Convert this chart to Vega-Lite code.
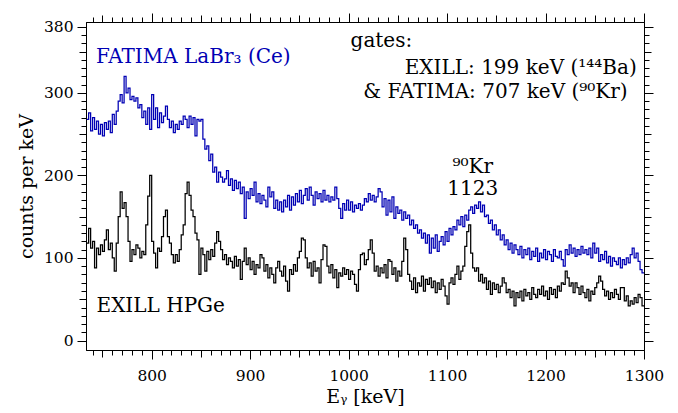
{
"$schema": "https://vega.github.io/schema/vega-lite/v6.json",
"width": 558, "height": 328,
"autosize": {"type": "none"},
"padding": {"left": 86, "top": 22, "right": 34, "bottom": 63},
"config": {
  "view": {"stroke": "black", "strokeWidth": 1},
  "font": "DejaVu Serif",
  "axis": {"grid": false, "tickColor": "black", "domainColor": "black", "labelColor": "black", "titleColor": "black", "labelFont": "DejaVu Serif", "titleFont": "DejaVu Serif", "labelFontSize": 15.5, "titleFontSize": 19, "titleFontWeight": "normal", "tickWidth": 1, "domainWidth": 1, "labelOverlap": false, "labelFlush": false},
  "text": {"font": "DejaVu Serif", "fontSize": 20}
},
"datasets": {"spec": [
{"e":734,"HPGe":118,"LaBr3":268},{"e":736,"HPGe":136,"LaBr3":276},{"e":738,"HPGe":112,"LaBr3":254},{"e":740,"HPGe":120,"LaBr3":270},
{"e":742,"HPGe":88,"LaBr3":256},{"e":744,"HPGe":112,"LaBr3":266},{"e":746,"HPGe":104,"LaBr3":250},{"e":748,"HPGe":116,"LaBr3":262},
{"e":750,"HPGe":108,"LaBr3":248},{"e":752,"HPGe":122,"LaBr3":264},{"e":754,"HPGe":134,"LaBr3":256},{"e":756,"HPGe":110,"LaBr3":266},
{"e":758,"HPGe":118,"LaBr3":252},{"e":760,"HPGe":100,"LaBr3":274},{"e":762,"HPGe":84,"LaBr3":262},{"e":764,"HPGe":118,"LaBr3":278},
{"e":766,"HPGe":150,"LaBr3":290},{"e":768,"HPGe":180,"LaBr3":298},{"e":770,"HPGe":160,"LaBr3":288},{"e":772,"HPGe":167,"LaBr3":320},
{"e":774,"HPGe":150,"LaBr3":300},{"e":776,"HPGe":120,"LaBr3":306},{"e":778,"HPGe":96,"LaBr3":292},{"e":780,"HPGe":110,"LaBr3":296},
{"e":782,"HPGe":104,"LaBr3":290},{"e":784,"HPGe":116,"LaBr3":294},{"e":786,"HPGe":112,"LaBr3":282},{"e":788,"HPGe":100,"LaBr3":286},
{"e":790,"HPGe":108,"LaBr3":270},{"e":792,"HPGe":104,"LaBr3":278},{"e":794,"HPGe":140,"LaBr3":262},{"e":796,"HPGe":175,"LaBr3":282},
{"e":798,"HPGe":200,"LaBr3":256},{"e":800,"HPGe":120,"LaBr3":298},{"e":802,"HPGe":106,"LaBr3":268},{"e":804,"HPGe":88,"LaBr3":282},
{"e":806,"HPGe":112,"LaBr3":258},{"e":808,"HPGe":108,"LaBr3":276},{"e":810,"HPGe":126,"LaBr3":264},{"e":812,"HPGe":150,"LaBr3":272},
{"e":814,"HPGe":158,"LaBr3":284},{"e":816,"HPGe":126,"LaBr3":268},{"e":818,"HPGe":118,"LaBr3":258},{"e":820,"HPGe":104,"LaBr3":266},
{"e":822,"HPGe":94,"LaBr3":252},{"e":824,"HPGe":104,"LaBr3":262},{"e":826,"HPGe":96,"LaBr3":256},{"e":828,"HPGe":110,"LaBr3":266},
{"e":830,"HPGe":128,"LaBr3":262},{"e":832,"HPGe":140,"LaBr3":272},{"e":834,"HPGe":178,"LaBr3":268},{"e":836,"HPGe":192,"LaBr3":258},
{"e":838,"HPGe":176,"LaBr3":272},{"e":840,"HPGe":158,"LaBr3":262},{"e":842,"HPGe":150,"LaBr3":270},{"e":844,"HPGe":130,"LaBr3":248},
{"e":846,"HPGe":122,"LaBr3":268},{"e":848,"HPGe":80,"LaBr3":266},{"e":850,"HPGe":112,"LaBr3":268},{"e":852,"HPGe":104,"LaBr3":244},
{"e":854,"HPGe":84,"LaBr3":232},{"e":856,"HPGe":108,"LaBr3":236},{"e":858,"HPGe":98,"LaBr3":218},{"e":860,"HPGe":110,"LaBr3":226},
{"e":862,"HPGe":102,"LaBr3":204},{"e":864,"HPGe":118,"LaBr3":210},{"e":866,"HPGe":132,"LaBr3":192},{"e":868,"HPGe":120,"LaBr3":204},
{"e":870,"HPGe":110,"LaBr3":198},{"e":872,"HPGe":98,"LaBr3":192},{"e":874,"HPGe":104,"LaBr3":196},{"e":876,"HPGe":92,"LaBr3":206},
{"e":878,"HPGe":100,"LaBr3":188},{"e":880,"HPGe":96,"LaBr3":196},{"e":882,"HPGe":88,"LaBr3":182},{"e":884,"HPGe":102,"LaBr3":194},
{"e":886,"HPGe":90,"LaBr3":184},{"e":888,"HPGe":98,"LaBr3":192},{"e":890,"HPGe":74,"LaBr3":178},{"e":892,"HPGe":96,"LaBr3":186},
{"e":894,"HPGe":112,"LaBr3":148},{"e":896,"HPGe":92,"LaBr3":180},{"e":898,"HPGe":100,"LaBr3":172},{"e":900,"HPGe":86,"LaBr3":184},
{"e":902,"HPGe":96,"LaBr3":176},{"e":904,"HPGe":80,"LaBr3":192},{"e":906,"HPGe":92,"LaBr3":168},{"e":908,"HPGe":88,"LaBr3":178},
{"e":910,"HPGe":104,"LaBr3":166},{"e":912,"HPGe":100,"LaBr3":176},{"e":914,"HPGe":84,"LaBr3":170},{"e":916,"HPGe":92,"LaBr3":162},
{"e":918,"HPGe":76,"LaBr3":186},{"e":920,"HPGe":88,"LaBr3":174},{"e":922,"HPGe":80,"LaBr3":180},{"e":924,"HPGe":70,"LaBr3":160},
{"e":926,"HPGe":88,"LaBr3":170},{"e":928,"HPGe":96,"LaBr3":158},{"e":930,"HPGe":84,"LaBr3":168},{"e":932,"HPGe":78,"LaBr3":156},
{"e":934,"HPGe":90,"LaBr3":170},{"e":936,"HPGe":72,"LaBr3":162},{"e":938,"HPGe":60,"LaBr3":176},{"e":940,"HPGe":86,"LaBr3":158},
{"e":942,"HPGe":80,"LaBr3":174},{"e":944,"HPGe":92,"LaBr3":164},{"e":946,"HPGe":84,"LaBr3":178},{"e":948,"HPGe":100,"LaBr3":168},
{"e":950,"HPGe":108,"LaBr3":182},{"e":952,"HPGe":124,"LaBr3":166},{"e":954,"HPGe":122,"LaBr3":176},{"e":956,"HPGe":100,"LaBr3":184},
{"e":958,"HPGe":88,"LaBr3":170},{"e":960,"HPGe":94,"LaBr3":186},{"e":962,"HPGe":78,"LaBr3":176},{"e":964,"HPGe":96,"LaBr3":164},
{"e":966,"HPGe":84,"LaBr3":180},{"e":968,"HPGe":88,"LaBr3":172},{"e":970,"HPGe":70,"LaBr3":178},{"e":972,"HPGe":98,"LaBr3":168},
{"e":974,"HPGe":116,"LaBr3":182},{"e":976,"HPGe":114,"LaBr3":170},{"e":978,"HPGe":90,"LaBr3":176},{"e":980,"HPGe":82,"LaBr3":168},
{"e":982,"HPGe":92,"LaBr3":174},{"e":984,"HPGe":76,"LaBr3":170},{"e":986,"HPGe":86,"LaBr3":186},{"e":988,"HPGe":64,"LaBr3":172},
{"e":990,"HPGe":82,"LaBr3":160},{"e":992,"HPGe":78,"LaBr3":148},{"e":994,"HPGe":88,"LaBr3":166},{"e":996,"HPGe":80,"LaBr3":158},
{"e":998,"HPGe":86,"LaBr3":170},{"e":1000,"HPGe":74,"LaBr3":158},{"e":1002,"HPGe":84,"LaBr3":168},{"e":1004,"HPGe":80,"LaBr3":156},
{"e":1006,"HPGe":68,"LaBr3":164},{"e":1008,"HPGe":60,"LaBr3":160},{"e":1010,"HPGe":86,"LaBr3":166},{"e":1012,"HPGe":104,"LaBr3":158},
{"e":1014,"HPGe":106,"LaBr3":164},{"e":1016,"HPGe":92,"LaBr3":172},{"e":1018,"HPGe":98,"LaBr3":168},{"e":1020,"HPGe":110,"LaBr3":178},
{"e":1022,"HPGe":122,"LaBr3":170},{"e":1024,"HPGe":106,"LaBr3":176},{"e":1026,"HPGe":84,"LaBr3":168},{"e":1028,"HPGe":90,"LaBr3":174},
{"e":1030,"HPGe":78,"LaBr3":184},{"e":1032,"HPGe":88,"LaBr3":180},{"e":1034,"HPGe":82,"LaBr3":162},{"e":1036,"HPGe":92,"LaBr3":172},
{"e":1038,"HPGe":76,"LaBr3":152},{"e":1040,"HPGe":98,"LaBr3":170},{"e":1042,"HPGe":96,"LaBr3":156},{"e":1044,"HPGe":80,"LaBr3":174},
{"e":1046,"HPGe":88,"LaBr3":148},{"e":1048,"HPGe":72,"LaBr3":162},{"e":1050,"HPGe":84,"LaBr3":154},{"e":1052,"HPGe":78,"LaBr3":158},
{"e":1054,"HPGe":96,"LaBr3":146},{"e":1056,"HPGe":124,"LaBr3":156},{"e":1058,"HPGe":110,"LaBr3":148},{"e":1060,"HPGe":80,"LaBr3":152},
{"e":1062,"HPGe":72,"LaBr3":140},{"e":1064,"HPGe":62,"LaBr3":146},{"e":1066,"HPGe":76,"LaBr3":136},{"e":1068,"HPGe":58,"LaBr3":140},
{"e":1070,"HPGe":70,"LaBr3":130},{"e":1072,"HPGe":66,"LaBr3":134},{"e":1074,"HPGe":78,"LaBr3":124},{"e":1076,"HPGe":60,"LaBr3":130},
{"e":1078,"HPGe":74,"LaBr3":118},{"e":1080,"HPGe":68,"LaBr3":128},{"e":1082,"HPGe":76,"LaBr3":106},{"e":1084,"HPGe":64,"LaBr3":124},
{"e":1086,"HPGe":72,"LaBr3":112},{"e":1088,"HPGe":58,"LaBr3":128},{"e":1090,"HPGe":70,"LaBr3":108},{"e":1092,"HPGe":62,"LaBr3":120},
{"e":1094,"HPGe":74,"LaBr3":126},{"e":1096,"HPGe":66,"LaBr3":116},{"e":1098,"HPGe":54,"LaBr3":132},{"e":1100,"HPGe":44,"LaBr3":120},
{"e":1102,"HPGe":70,"LaBr3":136},{"e":1104,"HPGe":76,"LaBr3":128},{"e":1106,"HPGe":68,"LaBr3":138},{"e":1108,"HPGe":80,"LaBr3":134},
{"e":1110,"HPGe":90,"LaBr3":146},{"e":1112,"HPGe":74,"LaBr3":140},{"e":1114,"HPGe":84,"LaBr3":150},{"e":1116,"HPGe":90,"LaBr3":138},
{"e":1118,"HPGe":114,"LaBr3":152},{"e":1120,"HPGe":132,"LaBr3":146},{"e":1122,"HPGe":140,"LaBr3":158},{"e":1124,"HPGe":106,"LaBr3":162},
{"e":1126,"HPGe":88,"LaBr3":154},{"e":1128,"HPGe":84,"LaBr3":164},{"e":1130,"HPGe":88,"LaBr3":160},{"e":1132,"HPGe":72,"LaBr3":168},
{"e":1134,"HPGe":80,"LaBr3":156},{"e":1136,"HPGe":70,"LaBr3":164},{"e":1138,"HPGe":76,"LaBr3":150},{"e":1140,"HPGe":62,"LaBr3":152},
{"e":1142,"HPGe":72,"LaBr3":142},{"e":1144,"HPGe":56,"LaBr3":146},{"e":1146,"HPGe":70,"LaBr3":134},{"e":1148,"HPGe":62,"LaBr3":140},
{"e":1150,"HPGe":68,"LaBr3":128},{"e":1152,"HPGe":58,"LaBr3":134},{"e":1154,"HPGe":66,"LaBr3":122},{"e":1156,"HPGe":76,"LaBr3":128},
{"e":1158,"HPGe":70,"LaBr3":116},{"e":1160,"HPGe":58,"LaBr3":122},{"e":1162,"HPGe":62,"LaBr3":110},{"e":1164,"HPGe":52,"LaBr3":118},
{"e":1166,"HPGe":60,"LaBr3":106},{"e":1168,"HPGe":42,"LaBr3":116},{"e":1170,"HPGe":58,"LaBr3":110},{"e":1172,"HPGe":52,"LaBr3":104},
{"e":1174,"HPGe":60,"LaBr3":114},{"e":1176,"HPGe":48,"LaBr3":100},{"e":1178,"HPGe":62,"LaBr3":110},{"e":1180,"HPGe":54,"LaBr3":104},
{"e":1182,"HPGe":58,"LaBr3":112},{"e":1184,"HPGe":50,"LaBr3":98},{"e":1186,"HPGe":64,"LaBr3":108},{"e":1188,"HPGe":56,"LaBr3":102},
{"e":1190,"HPGe":52,"LaBr3":112},{"e":1192,"HPGe":62,"LaBr3":96},{"e":1194,"HPGe":56,"LaBr3":106},{"e":1196,"HPGe":66,"LaBr3":100},
{"e":1198,"HPGe":54,"LaBr3":110},{"e":1200,"HPGe":60,"LaBr3":98},{"e":1202,"HPGe":50,"LaBr3":108},{"e":1204,"HPGe":64,"LaBr3":104},
{"e":1206,"HPGe":56,"LaBr3":96},{"e":1208,"HPGe":62,"LaBr3":110},{"e":1210,"HPGe":52,"LaBr3":102},{"e":1212,"HPGe":66,"LaBr3":100},
{"e":1214,"HPGe":60,"LaBr3":108},{"e":1216,"HPGe":70,"LaBr3":98},{"e":1218,"HPGe":68,"LaBr3":90},{"e":1220,"HPGe":84,"LaBr3":110},
{"e":1222,"HPGe":76,"LaBr3":104},{"e":1224,"HPGe":66,"LaBr3":116},{"e":1226,"HPGe":70,"LaBr3":106},{"e":1228,"HPGe":58,"LaBr3":112},
{"e":1230,"HPGe":70,"LaBr3":102},{"e":1232,"HPGe":64,"LaBr3":110},{"e":1234,"HPGe":56,"LaBr3":104},{"e":1236,"HPGe":66,"LaBr3":114},
{"e":1238,"HPGe":58,"LaBr3":106},{"e":1240,"HPGe":52,"LaBr3":110},{"e":1242,"HPGe":62,"LaBr3":104},{"e":1244,"HPGe":48,"LaBr3":112},
{"e":1246,"HPGe":60,"LaBr3":100},{"e":1248,"HPGe":56,"LaBr3":118},{"e":1250,"HPGe":64,"LaBr3":106},{"e":1252,"HPGe":70,"LaBr3":112},
{"e":1254,"HPGe":78,"LaBr3":96},{"e":1256,"HPGe":72,"LaBr3":104},{"e":1258,"HPGe":62,"LaBr3":98},{"e":1260,"HPGe":54,"LaBr3":108},
{"e":1262,"HPGe":60,"LaBr3":94},{"e":1264,"HPGe":50,"LaBr3":102},{"e":1266,"HPGe":58,"LaBr3":90},{"e":1268,"HPGe":52,"LaBr3":100},
{"e":1270,"HPGe":62,"LaBr3":96},{"e":1272,"HPGe":56,"LaBr3":92},{"e":1274,"HPGe":50,"LaBr3":100},{"e":1276,"HPGe":64,"LaBr3":88},
{"e":1278,"HPGe":64,"LaBr3":98},{"e":1280,"HPGe":48,"LaBr3":92},{"e":1282,"HPGe":54,"LaBr3":100},{"e":1284,"HPGe":42,"LaBr3":94},
{"e":1286,"HPGe":48,"LaBr3":104},{"e":1288,"HPGe":44,"LaBr3":112},{"e":1290,"HPGe":52,"LaBr3":100},{"e":1292,"HPGe":46,"LaBr3":106},
{"e":1294,"HPGe":56,"LaBr3":96},{"e":1296,"HPGe":52,"LaBr3":86},{"e":1298,"HPGe":42,"LaBr3":82},{"e":1300,"HPGe":42,"LaBr3":82}
]},
"layer": [
  {
    "data": {"name": "spec"},
    "transform": [{"fold": ["HPGe", "LaBr3"], "as": ["detector", "counts"]}],
    "mark": {"type": "line", "interpolate": "step-after", "strokeWidth": 1.25, "clip": true},
    "encoding": {
      "x": {"field": "e", "type": "quantitative",
        "scale": {"domain": [733.3, 1300], "nice": false, "zero": false},
        "axis": {"orient": "bottom", "title": "Eᵧ [keV]", "format": "d", "titlePadding": 4, "labelPadding": 9,
          "values": [740,750,760,770,780,790,800,810,820,830,840,850,860,870,880,890,900,910,920,930,940,950,960,970,980,990,1000,1010,1020,1030,1040,1050,1060,1070,1080,1090,1100,1110,1120,1130,1140,1150,1160,1170,1180,1190,1200,1210,1220,1230,1240,1250,1260,1270,1280,1290,1300],
          "labelExpr": "datum.value % 100 === 0 ? datum.label : ''",
          "tickSize": {"condition": [{"test": "datum.value % 100 === 0", "value": 9}, {"test": "datum.value % 50 === 0", "value": 7}], "value": 5}}},
      "y": {"field": "counts", "type": "quantitative",
        "scale": {"domain": [-11.5, 386], "nice": false, "zero": false},
        "axis": {"orient": "left", "title": "counts per keV", "format": "d", "titlePadding": 7, "labelPadding": 4,
          "values": [0,10,20,30,40,50,60,70,80,90,100,110,120,130,140,150,160,170,180,190,200,210,220,230,240,250,260,270,280,290,300,310,320,330,340,350,360,370,380],
          "labelExpr": "(datum.value % 100 === 0 || datum.value === 380) ? datum.label : ''",
          "tickSize": {"condition": [{"test": "datum.value % 100 === 0 || datum.value === 380", "value": 9}, {"test": "datum.value % 50 === 0", "value": 7}], "value": 5}}},
      "color": {"field": "detector", "type": "nominal", "scale": {"domain": ["HPGe", "LaBr3"], "range": ["#000000", "#0000b4"]}, "legend": null}
    }
  },
  {
    "data": {"values": [{}]},
    "mark": {"type": "text", "text": "EXILL HPGe", "align": "left", "baseline": "alphabetic", "color": "black"},
    "encoding": {
      "x": {"datum": 744, "type": "quantitative",
        "axis": {"orient": "top", "title": null, "labels": false,
          "values": [740,750,760,770,780,790,800,810,820,830,840,850,860,870,880,890,900,910,920,930,940,950,960,970,980,990,1000,1010,1020,1030,1040,1050,1060,1070,1080,1090,1100,1110,1120,1130,1140,1150,1160,1170,1180,1190,1200,1210,1220,1230,1240,1250,1260,1270,1280,1290,1300],
          "tickSize": {"condition": [{"test": "datum.value % 100 === 0", "value": 9}, {"test": "datum.value % 50 === 0", "value": 7}], "value": 5}}},
      "y": {"datum": 35, "type": "quantitative",
        "axis": {"orient": "right", "title": null, "labels": false,
          "values": [0,10,20,30,40,50,60,70,80,90,100,110,120,130,140,150,160,170,180,190,200,210,220,230,240,250,260,270,280,290,300,310,320,330,340,350,360,370,380],
          "tickSize": {"condition": [{"test": "datum.value % 100 === 0 || datum.value === 380", "value": 9}, {"test": "datum.value % 50 === 0", "value": 7}], "value": 5}}}
    }
  },
  {
    "data": {"values": [{}]},
    "mark": {"type": "text", "text": "FATIMA LaBr₃ (Ce)", "align": "left", "baseline": "alphabetic", "color": "#0000b4"},
    "encoding": {"x": {"datum": 743.5, "type": "quantitative", "axis": null}, "y": {"datum": 336, "type": "quantitative", "axis": null}}
  },
  {
    "data": {"values": [{}]},
    "mark": {"type": "text", "text": "gates:", "align": "left", "baseline": "alphabetic", "color": "black"},
    "encoding": {"x": {"datum": 1002, "type": "quantitative", "axis": null}, "y": {"datum": 356, "type": "quantitative", "axis": null}}
  },
  {
    "data": {"values": [{}]},
    "mark": {"type": "text", "text": "EXILL: 199 keV (¹⁴⁴Ba)", "align": "right", "baseline": "alphabetic", "color": "black"},
    "encoding": {"x": {"datum": 1292.6, "type": "quantitative", "axis": null}, "y": {"datum": 323, "type": "quantitative", "axis": null}}
  },
  {
    "data": {"values": [{}]},
    "mark": {"type": "text", "text": "& FATIMA: 707 keV (⁹⁰Kr)", "align": "right", "baseline": "alphabetic", "color": "black"},
    "encoding": {"x": {"datum": 1283.4, "type": "quantitative", "axis": null}, "y": {"datum": 293.6, "type": "quantitative", "axis": null}}
  },
  {
    "data": {"values": [{}]},
    "mark": {"type": "text", "text": "⁹⁰Kr", "align": "center", "baseline": "alphabetic", "color": "black"},
    "encoding": {"x": {"datum": 1126, "type": "quantitative", "axis": null}, "y": {"datum": 203.4, "type": "quantitative", "axis": null}}
  },
  {
    "data": {"values": [{}]},
    "mark": {"type": "text", "text": "1123", "align": "center", "baseline": "alphabetic", "color": "black"},
    "encoding": {"x": {"datum": 1126, "type": "quantitative", "axis": null}, "y": {"datum": 176.4, "type": "quantitative", "axis": null}}
  }
],
"resolve": {"axis": {"x": "independent", "y": "independent"}}
}
